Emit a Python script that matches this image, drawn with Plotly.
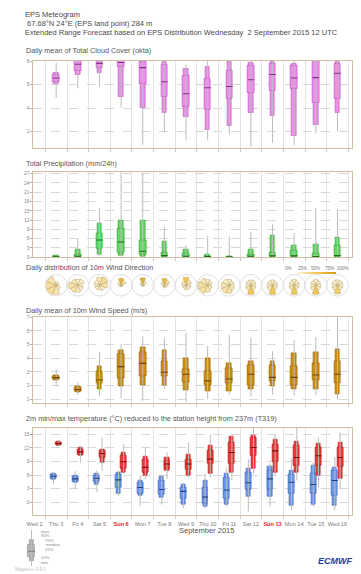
import numpy as np
import plotly.graph_objects as go

W, H = 361, 574

day_labels = ["Wed 2", "Thu 3", "Fri 4", "Sat 5", "Sun 6", "Mon 7", "Tue 8",
              "Wed 9", "Thu 10", "Fri 11", "Sat 12", "Sun 13", "Mon 14",
              "Tue 15", "Wed 16"]
weekend_labels = ["Sun 6", "Sun 13"]
forecast_days = list(range(1, 15))  # Thu 3 .. Wed 16

# Daily ensemble quantiles: (min, 10%, 25%, median, 75%, 90%, max)
cloud_q = [
    (4.86, 6.10, 6.27, 6.55, 6.83, 7.03, 7.86),
    (5.69, 6.87, 7.15, 7.72, 8.00, 8.00, 8.00),
    (5.80, 7.00, 7.44, 7.80, 8.00, 8.00, 8.00),
    (4.05, 4.95, 7.55, 7.88, 8.00, 8.00, 8.00),
    (0.87, 4.06, 6.03, 7.44, 7.90, 8.00, 8.00),
    (1.94, 3.58, 4.96, 6.23, 7.72, 7.94, 8.00),
    (1.24, 3.27, 4.14, 5.21, 6.73, 7.35, 7.70),
    (1.24, 2.17, 3.86, 5.72, 6.45, 7.52, 8.00),
    (1.80, 2.51, 4.82, 5.83, 7.21, 7.92, 8.00),
    (0.68, 3.63, 5.32, 6.40, 7.63, 7.86, 8.00),
    (1.04, 3.35, 5.46, 6.85, 7.80, 7.92, 8.00),
    (0.82, 1.66, 5.66, 6.56, 7.63, 7.77, 8.00),
    (1.86, 2.56, 4.42, 6.59, 8.00, 8.00, 8.00),
    (2.03, 3.63, 4.76, 6.96, 7.80, 7.92, 8.00),
]
precip_q = [
    (0.0, 0.0, 0.05, 0.15, 0.35, 0.6, 0.75),
    (0.0, 0.0, 0.05, 0.3, 0.9, 2.35, 6.1),
    (0.5, 0.85, 2.7, 5.55, 7.7, 10.9, 15.8),
    (0.2, 0.5, 1.6, 4.9, 9.3, 11.7, 28.3),
    (0.0, 0.2, 0.75, 1.9, 5.3, 12.0, 27.2),
    (0.0, 0.0, 0.05, 0.5, 1.4, 5.1, 9.9),
    (0.0, 0.0, 0.05, 0.3, 1.3, 2.45, 3.9),
    (0.0, 0.0, 0.0, 0.2, 0.5, 0.85, 6.9),
    (0.0, 0.0, 0.0, 0.1, 0.2, 0.3, 6.7),
    (0.0, 0.0, 0.05, 0.3, 0.95, 2.35, 8.2),
    (0.0, 0.0, 0.05, 0.4, 1.4, 6.9, 10.7),
    (0.0, 0.0, 0.1, 0.4, 2.1, 3.7, 7.7),
    (0.0, 0.0, 0.02, 0.2, 1.3, 4.05, 15.8),
    (0.0, 0.0, 0.1, 0.5, 3.7, 6.2, 15.5),
]
wind_q = [
    (2.01, 2.37, 2.45, 2.59, 2.72, 2.78, 3.22),
    (1.34, 1.53, 1.58, 1.72, 1.89, 1.99, 2.23),
    (1.22, 1.77, 2.18, 2.42, 3.07, 3.39, 4.47),
    (1.10, 1.94, 2.54, 3.39, 4.28, 4.59, 5.07),
    (0.90, 2.01, 2.66, 3.63, 4.42, 4.78, 5.60),
    (1.77, 2.06, 2.66, 2.98, 3.75, 4.59, 5.48),
    (0.81, 1.70, 2.25, 2.83, 3.22, 3.99, 5.87),
    (1.05, 1.58, 2.01, 2.35, 3.02, 3.99, 4.90),
    (1.34, 1.63, 2.18, 2.49, 3.31, 3.63, 5.72),
    (1.22, 1.77, 2.06, 2.83, 3.46, 3.75, 5.48),
    (1.34, 1.94, 2.35, 2.61, 3.51, 3.75, 4.52),
    (1.29, 1.77, 2.06, 2.61, 3.39, 4.35, 5.31),
    (1.29, 1.77, 2.37, 2.78, 3.63, 4.47, 5.55),
    (0.98, 1.39, 2.18, 2.83, 3.80, 4.64, 7.00),
]
tmin_q = [
    (4.08, 4.95, 5.17, 5.75, 6.04, 6.26, 6.63),
    (2.99, 4.44, 4.66, 5.17, 5.68, 5.90, 6.85),
    (2.26, 3.86, 4.59, 5.32, 5.90, 6.26, 7.00),
    (1.38, 1.89, 3.35, 4.95, 6.12, 6.63, 7.00),
    (-0.80, 1.38, 1.89, 3.28, 4.44, 4.80, 5.90),
    (-0.50, 0.95, 1.67, 2.84, 4.80, 5.75, 6.05),
    (-1.24, -0.50, 0.80, 2.40, 3.35, 3.86, 4.30),
    (-1.24, -1.00, -0.30, 1.17, 3.35, 4.80, 6.40),
    (-1.00, -0.50, 0.80, 2.70, 5.53, 6.26, 7.70),
    (-2.00, 1.17, 2.84, 4.30, 6.63, 7.35, 9.50),
    (-1.00, 1.17, 2.77, 5.17, 7.10, 7.94, 8.60),
    (-1.75, -0.80, 1.89, 4.44, 6.04, 7.00, 9.70),
    (-1.00, -0.50, 1.89, 3.93, 6.26, 8.10, 8.80),
    (-1.75, -0.80, 1.53, 4.80, 7.00, 7.70, 10.00),
]
tmax_q = [
    (12.45, 12.60, 12.70, 12.96, 13.20, 13.30, 13.70),
    (8.80, 10.40, 10.60, 11.14, 11.70, 12.10, 12.45),
    (7.00, 8.80, 9.90, 10.78, 11.36, 11.70, 14.20),
    (6.26, 6.63, 7.35, 8.96, 10.27, 11.00, 12.80),
    (5.17, 5.90, 6.63, 7.72, 9.40, 10.10, 12.10),
    (5.17, 7.00, 7.50, 8.45, 9.18, 9.90, 11.00),
    (5.50, 5.90, 7.21, 8.45, 9.54, 10.60, 13.20),
    (5.53, 6.26, 8.45, 9.54, 11.36, 12.45, 15.00),
    (4.80, 6.48, 8.45, 11.00, 13.20, 14.50, 14.80),
    (6.26, 7.50, 10.27, 12.10, 14.30, 14.80, 16.50),
    (5.90, 6.63, 8.96, 11.36, 12.80, 13.90, 15.00),
    (4.80, 6.63, 8.10, 9.90, 12.45, 13.50, 16.50),
    (3.35, 5.90, 8.10, 10.27, 12.10, 13.00, 14.30),
    (2.99, 5.30, 7.94, 9.90, 12.10, 13.20, 15.40),
]

# Wind roses: 8 direction sectors, sector length and frequency (%) per day
rose_dirs = [0, 45, 90, 135, 180, 225, 270, 315]
rose_radius = [
    [0.35, 0.30, 0.25, 0.45, 0.85, 1.00, 1.00, 0.90],
    [0.55, 0.65, 0.45, 0.55, 0.65, 0.75, 0.85, 0.65],
    [0.75, 0.85, 0.75, 0.55, 0.45, 0.45, 0.45, 0.55],
    [0.65, 0.50, 0.20, 0.15, 0.15, 0.15, 0.20, 0.35],
    [0.70, 0.40, 0.15, 0.10, 0.10, 0.10, 0.15, 0.30],
    [0.65, 0.55, 0.35, 0.20, 0.25, 0.15, 0.20, 0.35],
    [0.75, 0.55, 0.45, 0.45, 0.40, 0.35, 0.35, 0.45],
    [0.55, 0.45, 0.35, 0.45, 0.65, 0.85, 0.90, 0.75],
    [0.55, 0.45, 0.45, 0.55, 0.75, 0.80, 0.75, 0.65],
    [0.50, 0.50, 0.45, 0.50, 0.85, 0.55, 0.45, 0.50],
    [0.50, 0.45, 0.45, 0.50, 0.85, 0.55, 0.50, 0.50],
    [0.55, 0.50, 0.45, 0.45, 0.85, 0.50, 0.45, 0.50],
    [0.55, 0.45, 0.45, 0.50, 0.85, 0.55, 0.45, 0.50],
    [0.50, 0.50, 0.50, 0.50, 0.80, 0.55, 0.50, 0.55],
]
rose_freq = [
    [5, 3, 2, 5, 18, 28, 28, 22],
    [8, 10, 5, 8, 14, 22, 24, 16],
    [16, 28, 22, 10, 8, 7, 8, 7],
    [72, 25, 2, 2, 2, 2, 2, 12],
    [80, 18, 1, 1, 1, 1, 1, 12],
    [65, 25, 8, 2, 3, 1, 1, 12],
    [50, 18, 10, 8, 8, 4, 2, 8],
    [10, 8, 5, 8, 16, 24, 24, 16],
    [10, 8, 8, 10, 22, 22, 18, 10],
    [8, 8, 8, 10, 50, 14, 9, 10],
    [8, 7, 8, 10, 52, 14, 8, 9],
    [9, 8, 7, 9, 50, 14, 9, 10],
    [8, 7, 8, 10, 52, 13, 8, 10],
    [9, 8, 9, 10, 45, 14, 10, 10],
]
rose_scale_ticks = [0, 25, 50, 75, 100]

# Key glyph quantiles and labels
legend_q = (0, 14, 25, 41, 58, 72, 100)
legend_labels = ["max", "90%", "75%", "median", "25%", "10%", "min"]

FONT = "Liberation Sans, Arial, sans-serif"
FRAME = "#cdbf9f"
WHISKER = "#bcbcbc"


def pxx(p):
    return p / W


def pxy(p):
    return 1 - p / H


X_DOM = [pxx(27), pxx(352)]
X_RANGE = [-0.05, 14.68]


def day_to_paper(d):
    return X_DOM[0] + (d - X_RANGE[0]) / (X_RANGE[1] - X_RANGE[0]) * (X_DOM[1] - X_DOM[0])


ticktext = [
    f"<b><span style='color:#e02424'>{t}</span></b>" if t in weekend_labels else t
    for t in day_labels
]

fig = go.Figure()


def add_boxes(q, xs, xa, ya, fill, edge, mid, w_out, w_in):
    arr = np.array(q, dtype=float)
    lo, p10, p25, med, p75, p90, hi = arr.T
    xs = np.asarray(xs, dtype=float)
    wx, wy = [], []
    for x, a, b in zip(xs, lo, hi):
        wx += [x, x, None]
        wy += [a, b, None]
    fig.add_trace(go.Scatter(x=wx, y=wy, mode="lines", line=dict(color=WHISKER, width=1),
                             xaxis=xa, yaxis=ya, hoverinfo="skip", showlegend=False))
    fig.add_trace(go.Bar(x=xs, y=p90 - p10, base=p10, width=w_in,
                         marker=dict(color=fill, line=dict(color=edge, width=0.7)),
                         xaxis=xa, yaxis=ya, hoverinfo="skip", showlegend=False))
    fig.add_trace(go.Bar(x=xs, y=p75 - p25, base=p25, width=w_out,
                         marker=dict(color=fill, line=dict(color=edge, width=0.7)),
                         xaxis=xa, yaxis=ya, hoverinfo="skip", showlegend=False))
    mx, my = [], []
    for x, m in zip(xs, med):
        mx += [x - w_out / 2, x + w_out / 2, None]
        my += [m, m, None]
    fig.add_trace(go.Scatter(x=mx, y=my, mode="lines", line=dict(color=mid, width=1.1),
                             xaxis=xa, yaxis=ya, hoverinfo="skip", showlegend=False))


days = np.array(forecast_days, dtype=float)
add_boxes(cloud_q, days, "x", "y", "#ea8fea", "#c45ac4", "#84308a", 0.30, 0.21)
add_boxes(precip_q, days, "x2", "y2", "#64d864", "#34a834", "#1d6a1d", 0.30, 0.21)
add_boxes(wind_q, days, "x4", "y4", "#cc8e12", "#a06c06", "#6a4604", 0.31, 0.22)
add_boxes(tmin_q, days - 0.12, "x5", "y5", "#6b97ea", "#3f68c4", "#22407e", 0.27, 0.19)
add_boxes(tmax_q, days + 0.12, "x5", "y5", "#ee3838", "#be1c1c", "#741010", 0.27, 0.19)
add_boxes([legend_q], [0.0], "x6", "y6", "#b4b4b4", "#9a9a9a", "#7a7a7a", 0.73, 0.47)

# Wind roses, one polar subplot per day
ROSE_SCALE = [[0.0, "#fffaea"], [0.25, "#f7dfa0"], [0.5, "#f0c85a"],
              [0.75, "#e6b12e"], [1.0, "#d69c12"]]
WD_TOP, WD_BOT = 273.5, 296.0
polar_layout = {}
for i, d in enumerate(forecast_days):
    name = "polar" if i == 0 else f"polar{i + 1}"
    fig.add_trace(go.Barpolar(
        r=rose_radius[i], theta=rose_dirs, width=[44] * len(rose_dirs),
        marker=dict(color=rose_freq[i], colorscale=ROSE_SCALE, cmin=0, cmax=100,
                    line=dict(color="#b9a46a", width=0.5),
                    showscale=(i == 0),
                    colorbar=dict(orientation="h", x=pxx(315), xanchor="center",
                                  y=pxy(272.2), yanchor="middle",
                                  lenmode="pixels", len=60, thicknessmode="pixels",
                                  thickness=2, outlinewidth=0, showticklabels=False,
                                  ticks="", tickvals=rose_scale_ticks)),
        subplot=name, hoverinfo="skip", showlegend=False))
    polar_layout[name] = dict(
        domain=dict(x=[day_to_paper(d - 0.5), day_to_paper(d + 0.5)],
                    y=[pxy(WD_BOT), pxy(WD_TOP)]),
        bgcolor="rgba(0,0,0,0)",
        radialaxis=dict(visible=False, range=[0, 1]),
        angularaxis=dict(rotation=90, direction="clockwise", showticklabels=False,
                         ticks="", showgrid=False, showline=True,
                         linecolor="#e0e0e0", linewidth=1),
    )


def xaxis(anchor, labels=False):
    return dict(domain=X_DOM, range=X_RANGE, anchor=anchor, showline=True, mirror=True,
                linecolor=FRAME, linewidth=1, tickmode="array",
                tickvals=list(range(len(day_labels))), ticktext=ticktext,
                showticklabels=labels, ticks="", showgrid=False, zeroline=False,
                tickangle=0, ticklabelstandoff=3,
                tickfont=dict(size=5.6, color="#7a7a7a", family=FONT),
                minor=dict(tickmode="array",
                           tickvals=[i + 0.5 for i in range(len(day_labels))],
                           showgrid=True, gridcolor="#e3e3e3", gridwidth=1,
                           ticks="outside", ticklen=3, tickcolor="#c8c8c8"))


def yaxis(anchor, top, bot, rng, ticks):
    return dict(domain=[pxy(bot), pxy(top)], range=rng, anchor=anchor, showline=True,
                mirror=True, linecolor=FRAME, linewidth=1, tickmode="array",
                tickvals=ticks, ticks="outside", ticklen=2, tickcolor="#b0b0b0",
                tickfont=dict(size=5, color="#8a8a8a", family=FONT),
                showgrid=True, gridcolor="#d8d8d8", griddash="dash", gridwidth=1,
                zeroline=False)


layout = dict(
    width=W, height=H, margin=dict(l=0, r=0, t=0, b=0), autosize=False,
    paper_bgcolor="white", plot_bgcolor="white", barmode="overlay", bargap=0,
    showlegend=False, font=dict(family=FONT, color="#555555"),
    xaxis=xaxis("y"),
    yaxis=yaxis("x", 58.3, 146.0, [0.62, 8.02], [2, 4, 6, 8]),
    xaxis2=xaxis("y2"),
    yaxis2=yaxis("x2", 170.0, 256.7, [-0.1, 27.7], list(range(0, 28, 3))),
    xaxis3=xaxis("y3"),
    yaxis3=dict(domain=[pxy(WD_BOT), pxy(WD_TOP)], range=[0, 1], anchor="x3",
                showline=True, mirror=True, linecolor=FRAME, linewidth=1,
                showticklabels=False, ticks="", showgrid=False, zeroline=False),
    xaxis4=xaxis("y4"),
    yaxis4=yaxis("x4", 317.0, 403.3, [0.75, 7.0], [1, 2, 3, 4, 5, 6, 7]),
    xaxis5=xaxis("y5", labels=True),
    yaxis5=yaxis("x5", 428.3, 516.7, [-2.85, 16.5], [0, 3, 6, 9, 12, 15]),
    xaxis6=dict(domain=[pxx(15), pxx(35)], range=[-1, 1], anchor="y6", visible=False),
    yaxis6=dict(domain=[pxy(568), pxy(531.7)], range=[0, 100], anchor="x6", visible=False),
)
layout.update(polar_layout)
fig.update_layout(**layout)

annotations = []


def text(x, y, s, size, color="#555555", anchor="left"):
    annotations.append(dict(x=pxx(x), y=pxy(y), xref="paper", yref="paper", text=s,
                            showarrow=False, xanchor=anchor, yanchor="middle",
                            font=dict(size=size, color=color, family=FONT)))


text(16, 12, "EPS Meteogram", 7.5, "#4a4a4a")
text(16, 21, " 67.68°N 24°E (EPS land point) 284 m", 7.5, "#4a4a4a")
text(16, 29.5, "Extended Range Forecast based on EPS Distribution Wednesday  2 September 2015 12 UTC",
     7.5, "#4a4a4a")
text(17, 47.5, "Daily mean of Total Cloud Cover (okta)", 7.3)
text(17, 162, "Total Precipitation (mm/24h)", 7.3)
text(17, 267, "Daily distribution of 10m Wind Direction", 7.3)
text(17, 310, "Daily mean of 10m Wind Speed (m/s)", 7.3)
text(17, 419.5, "2m min/max temperature (°C) reduced to the station height from 237m (T319)", 7.3)
text(203, 532, "September 2015", 7.5, "#555555", "center")

for k, v in enumerate(rose_scale_ticks):
    text(287 + k * 14, 267.8, f"{v}%", 4.5, "#777777", "center")

legend_label_pos = [(33, 532.7), (33, 537.5), (37, 542.7), (38, 546.7),
                    (37, 551.7), (33, 559.3), (33, 564.3)]
for lab, (lx, ly) in zip(legend_labels, legend_label_pos):
    text(lx, ly, lab, 4.3, "#8c8c8c")

text(6, 571, "Magics++ 2.9.1", 4.5, "#c0c0c0")
text(354, 563, "<b><i>ECMWF</i></b>", 9, "#1e3f9e", "right")

fig.update_layout(annotations=annotations)

fig.write_html("out.html")
